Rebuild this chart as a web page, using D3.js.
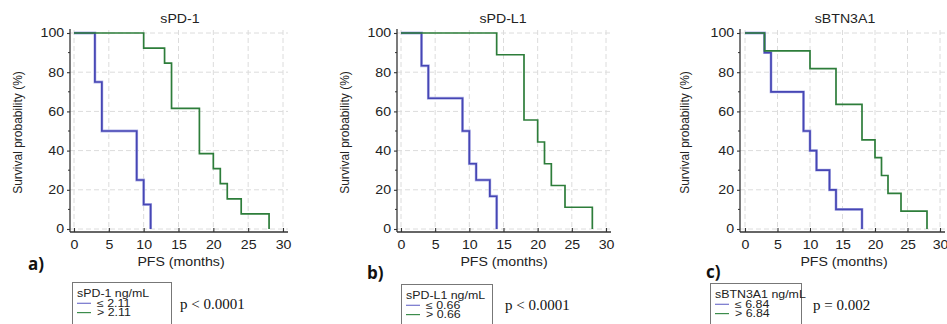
<!DOCTYPE html>
<html>
<head>
<meta charset="utf-8">
<script src="https://cdn.jsdelivr.net/npm/d3@7"></script>
<style>
  body { margin: 0; background: white; }
  svg { display: block; }
</style>
</head>
<body>
<script>
const W = 947, H = 324
const FONT = 'Liberation Sans, Arial, sans-serif'
const BLUE = '#4646b4'
const GREEN = '#2d7d3a'
const SX = 1.18 // the original figure is stretched horizontally

// Kaplan-Meier steps: time (months) and survival (%)
const pd1LowTimes = [0, 3, 4, 9, 10, 11]
const pd1LowSurv = [100, 75, 50, 25, 12.5, 0]
const pd1HighTimes = [0, 10, 13, 14, 18, 20, 21, 22, 24, 28]
const pd1HighSurv = [100, 92.3, 84.6, 61.5, 38.5, 30.8, 23.1, 15.4, 7.7, 0]

const pdl1LowTimes = [0, 3, 4, 9, 10, 11, 13, 14]
const pdl1LowSurv = [100, 83.3, 66.7, 50, 33.3, 25, 16.7, 0]
const pdl1HighTimes = [0, 14, 18, 20, 21, 22, 24, 28]
const pdl1HighSurv = [100, 88.9, 55.6, 44.4, 33.3, 22.2, 11.1, 0]

const btnLowTimes = [0, 3, 4, 9, 10, 11, 13, 14, 18]
const btnLowSurv = [100, 90, 70, 50, 40, 30, 20, 10, 0]
const btnHighTimes = [0, 3, 10, 14, 18, 20, 21, 22, 24, 28]
const btnHighSurv = [100, 90.9, 81.8, 63.6, 45.5, 36.4, 27.3, 18.2, 9.1, 0]

const xTicks = [0, 5, 10, 15, 20, 25, 30]
const yTicks = [0, 20, 40, 60, 80, 100]
const yMinor = [10, 30, 50, 70, 90]

const titles = ['sPD-1', 'sPD-L1', 'sBTN3A1']
const letters = ['a)', 'b)', 'c)']
const legendTitles = ['sPD-1 ng/mL', 'sPD-L1 ng/mL', 'sBTN3A1 ng/mL']
const lowLabels = ['≤ 2.11', '≤ 0.66', '≤ 6.84']
const highLabels = ['> 2.11', '> 0.66', '> 6.84']
const pValues = ['p < 0.0001', 'p < 0.0001', 'p = 0.002']

const series = [
  [[pd1LowTimes, pd1LowSurv], [pd1HighTimes, pd1HighSurv]],
  [[pdl1LowTimes, pdl1LowSurv], [pdl1HighTimes, pdl1HighSurv]],
  [[btnLowTimes, btnLowSurv], [btnHighTimes, btnHighSurv]]
]

// layout of each panel (pixels)
const layout = [
  { x0: 74, x1: 283, axisX: 70, ylab: 22, title: 180, letter: [28, 270], pfs: 181, legend: [72, 171, 282], p: [180, 309] },
  { x0: 401, x1: 606, axisX: 397, ylab: 349, title: 503, letter: [367, 279], pfs: 504, legend: [401, 492, 284], p: [505, 310] },
  { x0: 745, x1: 940, axisX: 740, ylab: 689, title: 845, letter: [706, 278], pfs: 844, legend: [710, 801, 283], p: [813, 310] }
]

const yTop = 33, yBot = 229, axisY = 232

const svg = d3.select('body').append('svg')
  .attr('width', W).attr('height', H).style('background', 'white')

function stretchedText(g, x, y, txt, size, anchor) {
  return g.append('text')
    .attr('transform', `translate(${x},${y}) scale(${SX},1)`)
    .attr('text-anchor', anchor || 'start')
    .attr('font-family', FONT).attr('font-size', size).attr('fill', '#222')
    .text(txt)
}

layout.forEach((L, i) => {
  const g = svg.append('g')
  const x = d3.scaleLinear().domain([0, 30]).range([L.x0, L.x1])
  const y = d3.scaleLinear().domain([0, 100]).range([yBot, yTop])
  const right = L.x1 + 5

  // grid
  g.append('g').selectAll('line').data(xTicks).join('line')
    .attr('x1', d => x(d)).attr('x2', d => x(d)).attr('y1', 30).attr('y2', axisY)
    .attr('stroke', '#dcdcdc').attr('stroke-dasharray', '5,3')
  g.append('g').selectAll('line').data(yTicks).join('line')
    .attr('x1', L.axisX).attr('x2', right).attr('y1', d => y(d)).attr('y2', d => y(d))
    .attr('stroke', '#dcdcdc').attr('stroke-dasharray', '5,3')

  // curves
  const line = d3.line().curve(d3.curveStepAfter).x(d => x(d[0])).y(d => y(d[1]))
  series[i].forEach(([t, s], k) => {
    const pts = t.map((v, j) => [v, s[j]])
    if (k === 0) {
      g.append('path').attr('d', line(pts)).attr('fill', 'none')
        .attr('stroke', '#b4b6e8').attr('stroke-width', 2.8)
    }
    g.append('path').attr('d', line(pts)).attr('fill', 'none')
      .attr('stroke', k === 0 ? BLUE : GREEN).attr('stroke-width', 1.7)
  })

  // x axis
  const gx = g.append('g').attr('transform', `translate(0,${axisY})`)
    .call(d3.axisBottom(x).tickValues(xTicks).tickSize(-4).tickSizeOuter(0).tickPadding(8))
  gx.select('.domain').attr('d', `M${L.axisX},0H${right}`)

  // y axis
  const gy = g.append('g').attr('transform', `translate(${L.axisX},0)`)
    .call(d3.axisLeft(y).tickValues(yTicks).tickSize(3).tickSizeOuter(0).tickPadding(2))
  gy.select('.domain').attr('d', `M0,29V${axisY}`)
  gy.append('g').selectAll('line').data(yMinor).join('line')
    .attr('x1', -2).attr('x2', 0).attr('y1', d => y(d)).attr('y2', d => y(d))
    .attr('stroke', '#333')

  ;[gx, gy].forEach(a => {
    a.selectAll('.domain').attr('stroke', '#333').attr('stroke-width', 1.3)
    a.selectAll('.tick line').attr('stroke', '#333').attr('stroke-width', 1.1)
    a.selectAll('.tick text').attr('font-family', FONT).attr('font-size', 12)
      .attr('fill', '#222').attr('transform', `scale(${SX},1)`)
  })

  // titles
  stretchedText(g, L.title, 23, titles[i], 12, 'middle')
  stretchedText(g, L.pfs, 266, 'PFS (months)', 12, 'middle')
  g.append('text')
    .attr('transform', `translate(${L.ylab},${(yTop + axisY) / 2}) rotate(-90)`)
    .attr('text-anchor', 'middle').attr('font-family', FONT).attr('font-size', 12)
    .attr('fill', '#222').text('Survival probability (%)')

  g.append('text').attr('x', L.letter[0]).attr('y', L.letter[1])
    .attr('font-family', 'Open Sans, Liberation Sans, sans-serif').attr('font-weight', 'bold')
    .attr('font-size', 17).attr('fill', '#111').text(letters[i])

  // legend
  const [lx0, lx1, ly] = L.legend
  g.append('rect').attr('x', lx0 + 0.5).attr('y', ly + 0.5)
    .attr('width', lx1 - lx0).attr('height', H - ly + 5)
    .attr('fill', 'white').attr('stroke', '#777')
  stretchedText(g, lx0 + 5, ly + 14.5, legendTitles[i], 10.5)
  const rows = [[lowLabels[i], '#7474cc'], [highLabels[i], '#3c8c4c']]
  rows.forEach(([lab, col], r) => {
    const yy = ly + 21.3 + r * 9.3
    g.append('line').attr('x1', lx0 + 5).attr('x2', lx0 + 19)
      .attr('y1', yy).attr('y2', yy).attr('stroke', col).attr('stroke-width', 1.2)
    stretchedText(g, lx0 + 25, yy + 3.6, lab, 10.5)
  })

  g.append('text').attr('x', L.p[0]).attr('y', L.p[1])
    .attr('font-family', 'Liberation Serif, Times New Roman, serif')
    .attr('font-size', 15).attr('fill', '#111').text(pValues[i])
})
</script>
</body>
</html>
